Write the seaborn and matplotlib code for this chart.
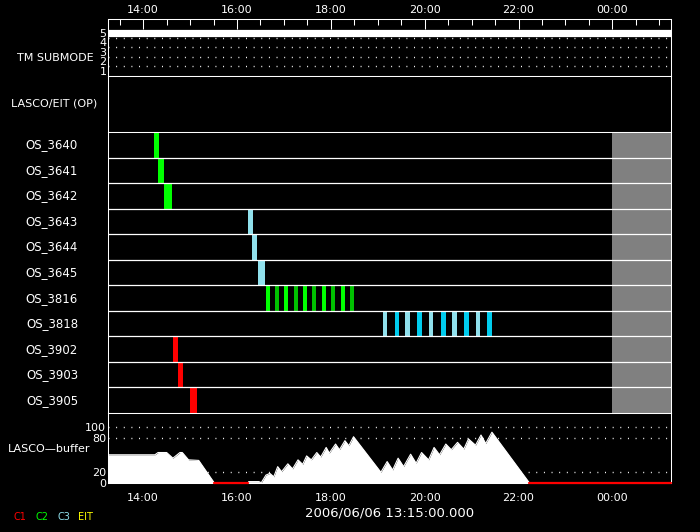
import numpy as np
import pandas as pd
import matplotlib
matplotlib.use('Agg')
import matplotlib.pyplot as plt
import seaborn as sns

# time range of the plot: 2006/06/06 13:15 -> 2006/06/07 01:15
t_first = '13:15'
t_last = '01:15'
major_times = ['14:00', '16:00', '18:00', '20:00', '22:00', '00:00']
date_label = '2006/06/06 13:15:00.000'

# telemetry submode
submode_time = ['13:15', '01:15']
submode_value = [5, 5]
submode_levels = [1, 2, 3, 4, 5]

# observing sequences
os_rows = ['OS_3640', 'OS_3641', 'OS_3642', 'OS_3643', 'OS_3644', 'OS_3645',
           'OS_3816', 'OS_3818', 'OS_3902', 'OS_3903', 'OS_3905']

exp_os = ['OS_3640', 'OS_3641', 'OS_3642', 'OS_3643', 'OS_3644', 'OS_3645',
          'OS_3816', 'OS_3816', 'OS_3816', 'OS_3816', 'OS_3816',
          'OS_3816', 'OS_3816', 'OS_3816', 'OS_3816', 'OS_3816',
          'OS_3818', 'OS_3818', 'OS_3818', 'OS_3818', 'OS_3818',
          'OS_3818', 'OS_3818', 'OS_3818', 'OS_3818', 'OS_3818',
          'OS_3902', 'OS_3903', 'OS_3905']
exp_start = ['14:13:40', '14:18:50', '14:26:30', '16:13:40', '16:18:50', '16:26:30',
             '16:36:40', '16:48:10', '16:59:40', '17:12:25', '17:23:55',
             '17:35:25', '17:48:10', '17:59:40', '18:12:25', '18:23:55',
             '19:06:30', '19:21:25', '19:35:25', '19:50:40', '20:06:00',
             '20:21:25', '20:35:25', '20:50:40', '21:06:00', '21:20:05',
             '14:38:00', '14:44:25', '14:59:40']
exp_minutes = [6.4, 7.3, 9.8, 6.4, 6.4, 9.8,
               5.5, 6, 5.5, 6, 5.5, 6, 5.5, 6, 5.5, 6,
               5, 6, 5.5, 6, 5, 6, 5.5, 6, 5, 6,
               6.4, 6.4, 9]
exp_cam = ['C2', 'C2', 'C2', 'C3', 'C3', 'C3',
           'C2', 'C2b', 'C2', 'C2b', 'C2', 'C2b', 'C2', 'C2b', 'C2', 'C2b',
           'C3', 'C3b', 'C3', 'C3b', 'C3', 'C3b', 'C3', 'C3b', 'C3', 'C3b',
           'C1', 'C1', 'C1']
nodata_from = '00:00'

# LASCO buffer fill level
buf_time = ['13:15', '14:15', '14:19', '14:30', '14:38', '14:47', '14:50', '14:58',
            '15:11', '15:31', '16:14', '16:15', '16:28', '16:31', '16:37', '16:42',
            '16:47', '16:52', '16:57', '17:05', '17:11', '17:18', '17:24', '17:29',
            '17:35', '17:42', '17:47', '17:54', '17:58', '18:06', '18:11', '18:18',
            '18:23', '18:29', '19:04', '19:12', '19:19', '19:26', '19:33', '19:42',
            '19:49', '19:56', '20:05', '20:12', '20:19', '20:27', '20:34', '20:42',
            '20:50', '20:56', '21:05', '21:12', '21:18', '21:26', '22:14', '01:15']
buf_value = [50, 50, 54, 54, 44, 54, 54, 41,
             40, 0, 0, 2.5, 2.5, 0.5, 14, 17,
             11, 29, 20, 34, 25, 41, 33, 48,
             41, 54, 46, 63, 53, 69, 59, 75,
             66, 82, 19, 38, 23, 44, 29, 51,
             35, 54, 41, 63, 50, 69, 59, 72,
             60, 78, 67, 85, 70, 90, 0, 0]
buf_ticks = [0, 20, 80, 100]

legend_cams = ['C1', 'C2', 'C3', 'EIT']
cam_colors = {'C1': '#ff0000', 'C2': '#00ff00', 'C2b': '#00c000',
              'C3': '#90e0ec', 'C3b': '#00ccee', 'EIT': '#ffff00'}


def hrs(s):
    p = [float(v) for v in s.split(':')]
    h = p[0] + p[1] / 60 + (p[2] / 3600 if len(p) > 2 else 0)
    return h + 24 if h < 12 else h


sns.set_theme(style='dark', rc={
    'figure.facecolor': 'black', 'axes.facecolor': 'black',
    'axes.edgecolor': 'white', 'axes.linewidth': 0.75,
    'text.color': 'white', 'xtick.color': 'white', 'ytick.color': 'white',
    'xtick.labelsize': 8, 'ytick.labelsize': 8, 'axes.grid': False,
})
plt.rcParams['font.family'] = ['DejaVu Sans']

fig = plt.figure(figsize=(7, 5.32), dpi=100)
W, H = 700, 532
L, R = 108, 671


def box(top, bottom):
    return [L / W, 1 - bottom / H, (R - L) / W, (bottom - top) / H]


ax_tm = fig.add_axes(box(19, 76))
ax_op = fig.add_axes(box(76, 132))
ax_os = fig.add_axes(box(132, 413))
ax_buf = fig.add_axes(box(413, 483))

x0, x1 = hrs(t_first), hrs(t_last)
majors = [hrs(t) for t in major_times]
minors = np.arange(np.ceil(x0 * 2) / 2, x1, 0.5)
dots = dict(color='white', lw=1, linestyle=(0, (0.7, 4.8)))

for ax in (ax_tm, ax_op, ax_os, ax_buf):
    ax.set_xlim(x0, x1)
    ax.set_xticks([])
    ax.set_yticks([])
    for sp in ax.spines.values():
        sp.set_color('white')
        sp.set_linewidth(0.75)
    ax.set_xlabel('')
    ax.set_ylabel('')

# --- TM submode ---
ax_tm.set_ylim(0.47, 6.47)
for lv in submode_levels[:-1]:
    ax_tm.axhline(lv + 0.5, **dots)
sns.lineplot(x=[hrs(t) for t in submode_time], y=submode_value, ax=ax_tm,
             color='white', linewidth=5.2, solid_capstyle='butt')
ax_tm.set_yticks(submode_levels)
ax_tm.set_yticklabels([str(v) for v in submode_levels])
ax_tm.tick_params(axis='y', length=0, pad=1)
ax_tm.xaxis.tick_top()
ax_tm.set_xticks(majors)
ax_tm.set_xticklabels(major_times)
ax_tm.set_xticks(minors, minor=True)
ax_tm.tick_params(axis='x', which='major', direction='in', length=7.2, width=0.75,
                  pad=3, top=True, bottom=False)
ax_tm.tick_params(axis='x', which='minor', direction='in', length=4.5, width=0.75,
                  top=True, bottom=False)
ax_tm.set_xlabel('')
ax_tm.set_ylabel('')
ax_tm.text(-0.094, 0.32, 'TM SUBMODE', transform=ax_tm.transAxes,
           ha='center', va='center', fontsize=8)

# --- LASCO/EIT (OP) ---
ax_op.text(-0.096, 0.5, 'LASCO/EIT (OP)', transform=ax_op.transAxes,
           ha='center', va='center', fontsize=8)

# --- OS rows ---
ax_os.set_ylim(len(os_rows), 0)
ax_os.axvspan(hrs(nodata_from), x1, color='#808080', lw=0, zorder=0)
exp = pd.DataFrame({'os': exp_os, 'start': [hrs(t) for t in exp_start],
                    'dur': np.array(exp_minutes) / 60, 'cam': exp_cam})
exp['row'] = exp['os'].map({n: i for i, n in enumerate(os_rows)})
ax_os.barh(exp['row'], exp['dur'], left=exp['start'], height=1, align='edge',
           color=[cam_colors[c] for c in exp['cam']], lw=0, zorder=2)
for i in range(1, len(os_rows)):
    ax_os.axhline(i, color='white', lw=0.9, zorder=3)
ytr = ax_os.get_yaxis_transform()
for i, name in enumerate(os_rows):
    ax_os.text(-0.0995, i + 0.5, name, transform=ytr, ha='center', va='center',
               fontsize=8.5)

# --- LASCO buffer ---
bt = np.array([hrs(t) for t in buf_time])
bv = np.array(buf_value, dtype=float)
ax_buf.set_ylim(0, 124)
for lv in buf_ticks[1:]:
    ax_buf.axhline(lv, **dots)
ax_buf.fill_between(bt, bv, color='white', lw=0, zorder=2)
sns.lineplot(x=bt, y=bv, ax=ax_buf, color='white', lw=0.8, zorder=2)
zero = np.where(bv == 0, 0.0, np.nan)
ax_buf.plot(bt, zero, color='#ff0000', lw=1.6, zorder=4, clip_on=False)
ax_buf.set_yticks(buf_ticks)
ax_buf.set_yticklabels([str(v) for v in buf_ticks])
ax_buf.tick_params(axis='y', length=0, pad=1.5)
ax_buf.set_xticks(majors)
ax_buf.set_xticklabels(major_times)
ax_buf.set_xticks(minors, minor=True)
ax_buf.tick_params(axis='x', which='major', direction='in', length=7.2, width=0.75,
                   pad=7)
ax_buf.tick_params(axis='x', which='minor', direction='in', length=5, width=0.75)
ax_buf.set_xlabel('')
ax_buf.set_ylabel('')
ax_buf.text(-0.105, 0.49, 'LASCO\u2014buffer', transform=ax_buf.transAxes,
            ha='center', va='center', fontsize=8)

# --- footer ---
fig.text(389.5 / W, 1 - 513 / H, date_label, ha='center', va='center', fontsize=9.5)
for x, cam in zip([13, 35, 57, 78], legend_cams):
    fig.text(x / W, 1 - 517 / H, cam, color=cam_colors[cam], ha='left',
             va='center', fontsize=7)

fig.savefig('out.png', dpi=100, facecolor='black')
